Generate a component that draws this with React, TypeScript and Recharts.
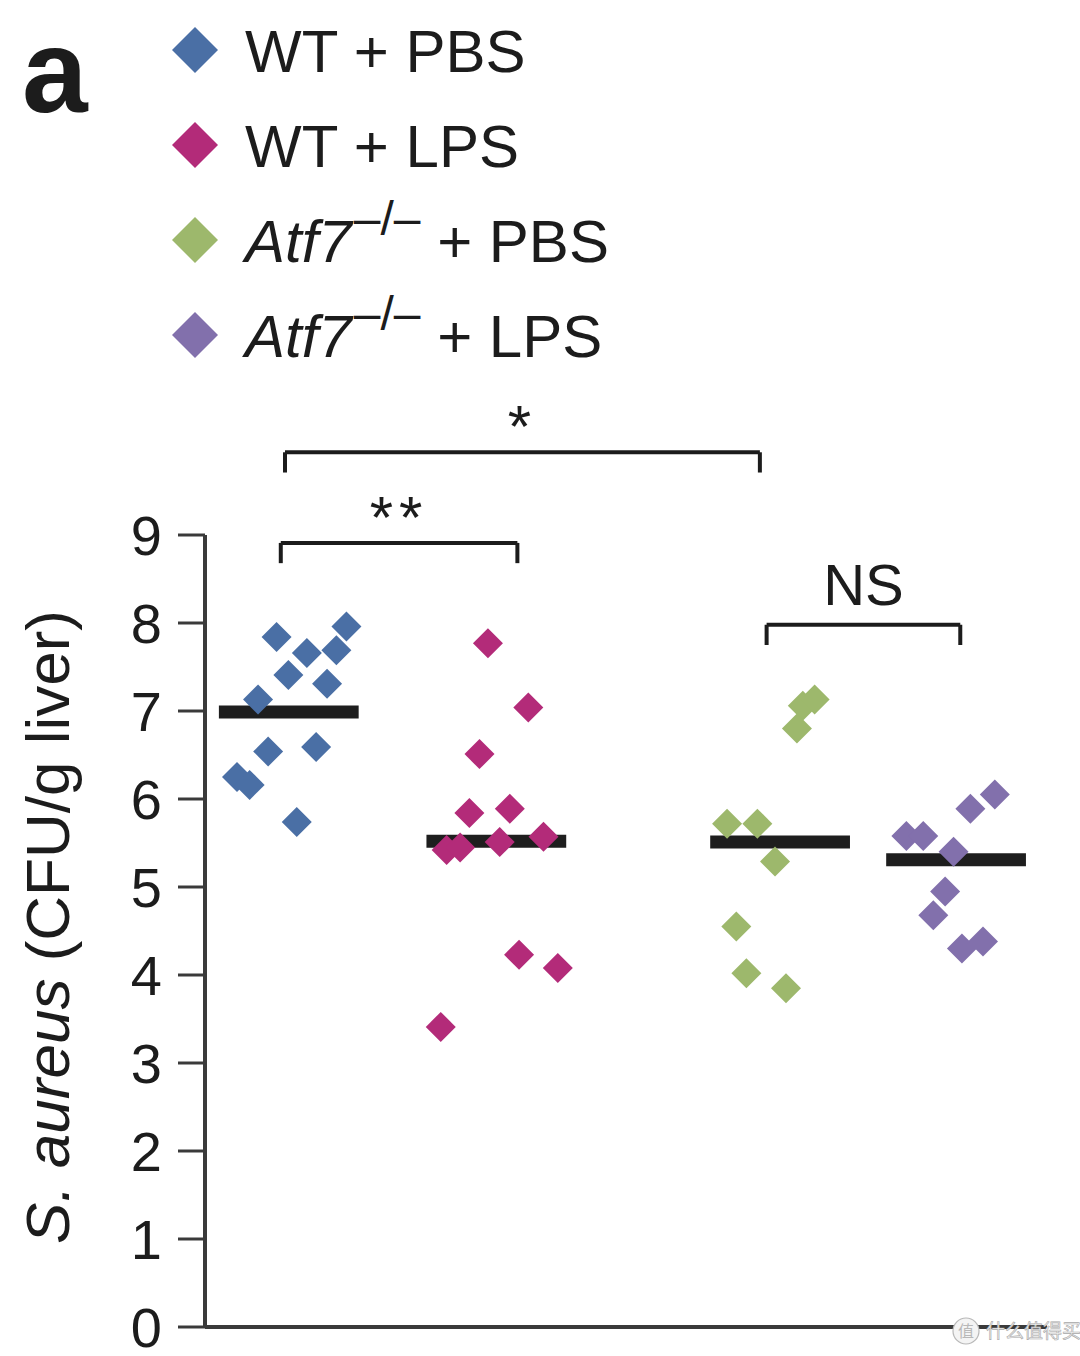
import { ReferenceLine, Scatter, ScatterChart, XAxis, YAxis } from 'recharts'

const FONT = '"Liberation Sans", Arial, Helvetica, sans-serif'
const INK = '#1c1c1c'
const AXIS = '#3a3a3a'

// groups
const genotypes = ['WT', 'WT', 'Atf7', 'Atf7']
const treatments = ['PBS', 'LPS', 'PBS', 'LPS']
const groupColors = ['#4a6fa5', '#b32b79', '#9db86c', '#8270ac']

// per-mouse log10 CFU with horizontal jitter (x in 0-100 layout units)
const wtPbsX = [8.5, 16.8, 15.6, 12.1, 9.9, 14.5, 6.3, 7.5, 13.2, 3.8, 5.3, 10.9]
const wtPbsY = [7.84, 7.96, 7.69, 7.66, 7.41, 7.31, 7.13, 6.54, 6.59, 6.25, 6.16, 5.74]

const wtLpsX = [33.6, 38.4, 32.6, 31.4, 36.2, 28.7, 30.3, 35.0, 40.2, 37.3, 41.9, 28.0]
const wtLpsY = [7.77, 7.04, 6.51, 5.84, 5.89, 5.42, 5.45, 5.51, 5.57, 4.23, 4.08, 3.41]

const atfPbsX = [71.0, 72.4, 70.3, 62.0, 65.6, 67.7, 63.1, 64.3, 69.0]
const atfPbsY = [7.06, 7.13, 6.8, 5.72, 5.72, 5.29, 4.55, 4.02, 3.85]

const atfLpsX = [83.3, 85.3, 88.9, 90.9, 93.8, 87.9, 86.5, 89.9, 92.4]
const atfLpsY = [5.58, 5.58, 5.4, 5.89, 6.05, 4.95, 4.68, 4.3, 4.38]

const groupMeans = [6.99, 5.52, 5.51, 5.31]
const groupCenters = [9.95, 34.6, 68.3, 89.2]

const yTicks = [0, 1, 2, 3, 4, 5, 6, 7, 8, 9]

// significance brackets
const bracketFrom = [9.5, 9.0, 66.7]
const bracketTo = [65.9, 37.1, 89.7]
const bracketY = [9.94, 8.91, 7.98]
const bracketText = ['*', '**', 'NS']

const seriesX = [wtPbsX, wtLpsX, atfPbsX, atfLpsX]
const seriesY = [wtPbsY, wtLpsY, atfPbsY, atfLpsY]

const MEAN_HALF = 8.3
const ARM = 0.23

function Diamond(props: any) {
  const { cx, cy, fill } = props
  const r = 15
  if (cx == null || cy == null) return null
  return (
    <polygon
      points={`${cx},${cy - r} ${cx + r},${cy} ${cx},${cy + r} ${cx - r},${cy}`}
      fill={fill}
    />
  )
}

function YLabel() {
  return (
    <text
      transform="translate(69,927) rotate(-90)"
      textAnchor="middle"
      fontSize={62}
      fontFamily={FONT}
      fill={INK}
    >
      <tspan fontStyle="italic">S. aureus</tspan>
      <tspan>{'\u00a0(CFU/g liver)'}</tspan>
    </text>
  )
}

function Legend() {
  return (
    <svg width={1080} height={380} style={{ position: 'absolute', left: 0, top: 0 }}>
      <text x={22} y={112} fontSize={118} fontWeight="bold" fontFamily={FONT} fill={INK}>
        a
      </text>
      {genotypes.map((g, i) => {
        const base = 72 + i * 95
        const cy = base - 22
        const r = 23
        const knockout = g !== 'WT'
        return (
          <g key={i}>
            <polygon
              points={`195,${cy - r} ${195 + r},${cy} 195,${cy + r} ${195 - r},${cy}`}
              fill={groupColors[i]}
            />
            <text x={245} y={base} fontSize={60} fontFamily={FONT} fill={INK} style={{ whiteSpace: 'pre' }}>
              {knockout ? (
                <>
                  <tspan fontStyle="italic">{g}</tspan>
                  <tspan fontSize={48} dx={2} dy={-27}>
                    {'\u2013/\u2013'}
                  </tspan>
                  <tspan dy={27}>{`\u00a0+ ${treatments[i]}`}</tspan>
                </>
              ) : (
                `${g} + ${treatments[i]}`
              )}
            </text>
          </g>
        )
      })}
    </svg>
  )
}

function Watermark() {
  return (
    <svg width={140} height={40} style={{ position: 'absolute', left: 940, top: 1312 }}>
      <circle cx={26} cy={19} r={13} fill="#f4f4f4" stroke="#b8b8b8" strokeWidth={1.2} />
      <text x={26} y={25} textAnchor="middle" fontSize={16} fontFamily="Noto Sans CJK SC" fill="#b8b8b8">
        值
      </text>
      <text x={46} y={26} fontSize={19} fontFamily="Noto Sans CJK SC" fill="#f2f2f2" stroke="#a8a8a8" strokeWidth={0.6}>
        什么值得买
      </text>
    </svg>
  )
}

export default function App() {
  return (
    <div style={{ position: 'absolute', left: 0, top: 0, width: 1080, height: 1356, background: '#fff' }}>
      <ScatterChart width={1080} height={1356} margin={{ top: 535, right: 33, bottom: 28, left: 0 }}>
        <XAxis
          type="number"
          dataKey="x"
          domain={[0, 100]}
          allowDataOverflow
          tick={false}
          tickLine={false}
          height={1}
          axisLine={{ stroke: AXIS, strokeWidth: 4 }}
        />
        <YAxis
          type="number"
          dataKey="y"
          domain={[0, 9]}
          ticks={yTicks}
          tickCount={10}
          interval={0}
          allowDataOverflow
          width={205}
          tickSize={27}
          tickMargin={16}
          axisLine={{ stroke: AXIS, strokeWidth: 4 }}
          tickLine={{ stroke: AXIS, strokeWidth: 3 }}
          tick={{ fontSize: 56, fill: INK, fontFamily: FONT }}
          label={{ content: YLabel }}
        />
        {seriesX.map((xs, i) => (
          <Scatter
            key={`${genotypes[i]}-${treatments[i]}`}
            name={`${genotypes[i]} + ${treatments[i]}`}
            data={xs.map((x, j) => ({ x, y: seriesY[i][j] }))}
            fill={groupColors[i]}
            shape={(p: any) => <Diamond {...p} fill={groupColors[i]} />}
            isAnimationActive={false}
          />
        ))}
        {groupMeans.map((m, i) => (
          <ReferenceLine
            key={`mean-${i}`}
            segment={[
              { x: groupCenters[i] - MEAN_HALF, y: m },
              { x: groupCenters[i] + MEAN_HALF, y: m },
            ]}
            stroke="#1e1e1e"
            strokeWidth={13}
            ifOverflow="visible"
          />
        ))}
        {bracketFrom.map((from, i) => {
          const to = bracketTo[i]
          const y = bracketY[i]
          const txt = bracketText[i]
          const ns = txt === 'NS'
          return [
            <ReferenceLine
              key={`b-top-${i}`}
              segment={[
                { x: from, y },
                { x: to, y },
              ]}
              stroke={INK}
              strokeWidth={4}
              ifOverflow="visible"
              label={{
                content: (lp: any) => {
                  const vb = lp.viewBox || {}
                  const cx = (vb.x ?? 0) + (vb.width ?? 0) / 2
                  return (
                    <text
                      x={cx}
                      y={(vb.y ?? 0) + (ns ? -20 : -5)}
                      textAnchor="middle"
                      fontSize={ns ? 58 : 60}
                      letterSpacing={ns ? 0 : 6}
                      fontFamily={FONT}
                      fill={INK}
                    >
                      {txt}
                    </text>
                  )
                },
              }}
            />,
            <ReferenceLine
              key={`b-l-${i}`}
              segment={[
                { x: from, y },
                { x: from, y: y - ARM },
              ]}
              stroke={INK}
              strokeWidth={4}
              ifOverflow="visible"
            />,
            <ReferenceLine
              key={`b-r-${i}`}
              segment={[
                { x: to, y },
                { x: to, y: y - ARM },
              ]}
              stroke={INK}
              strokeWidth={4}
              ifOverflow="visible"
            />,
          ]
        })}
      </ScatterChart>
      <Legend />
      <Watermark />
    </div>
  )
}
